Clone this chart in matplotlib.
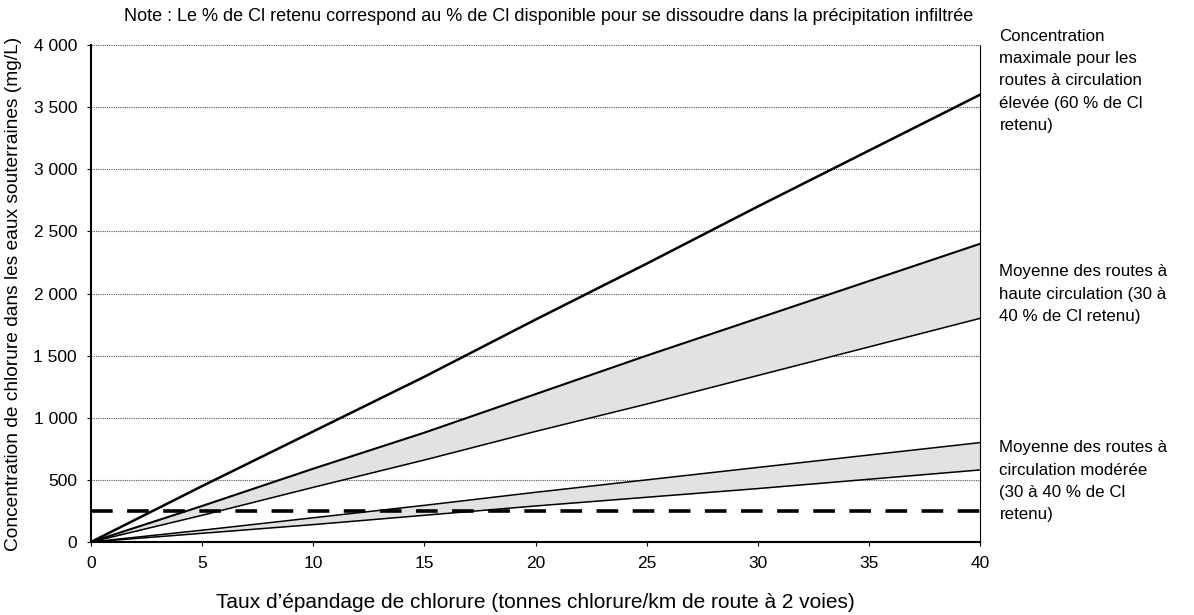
import numpy as np
import matplotlib.pyplot as plt
from matplotlib.ticker import FuncFormatter

plt.rcParams['font.family'] = ['Liberation Sans', 'DejaVu Sans']

# taux d'épandage (tonnes / km)
taux = [0, 5, 10, 15, 20, 25, 30, 35, 40]

# concentrations (mg/L)
max_eleve = [0, 450, 890, 1330, 1790, 2240, 2700, 3150, 3600]
haute_sup = [0, 290, 590, 880, 1190, 1500, 1800, 2100, 2400]
haute_inf = [0, 215, 440, 660, 890, 1110, 1340, 1570, 1800]
moder_sup = [0, 95, 195, 295, 400, 500, 600, 700, 800]
moder_inf = [0, 70, 140, 215, 290, 360, 430, 505, 580]
seuil = [250, 250, 250, 250, 250, 250, 250, 250, 250]

y_ticks = [0, 500, 1000, 1500, 2000, 2500, 3000, 3500, 4000]

fig = plt.figure(figsize=(11.94, 6.15), dpi=100)
ax = fig.add_axes([0.0762, 0.1187, 0.7446, 0.8081])

# grille horizontale pointillée
for v in y_ticks[1:]:
    ax.axhline(v, color='#555555', lw=0.8, ls=(0, (1, 1)), zorder=1)

# bandes grisées
ax.fill_between(taux, haute_inf, haute_sup, color='#e2e2e2', lw=0, zorder=2)
ax.fill_between(taux, moder_inf, moder_sup, color='#e2e2e2', lw=0, zorder=2)

ax.plot(taux, max_eleve, color='black', lw=1.8, zorder=4)
ax.plot(taux, haute_sup, color='black', lw=1.5, zorder=4)
ax.plot(taux, haute_inf, color='black', lw=1.1, zorder=4)
ax.plot(taux, moder_sup, color='black', lw=1.1, zorder=4)
ax.plot(taux, moder_inf, color='black', lw=1.1, zorder=4)
ax.plot(taux, seuil, color='black', lw=2.6, ls=(0, (6, 4)), zorder=5)

ax.set_xlim(0, 40)
ax.set_ylim(0, 4000)
ax.set_xticks(taux)
ax.set_yticks(y_ticks)
ax.yaxis.set_major_formatter(FuncFormatter(lambda v, p: f'{int(v):,}'.replace(',', ' ')))
ax.tick_params(axis='both', labelsize=12.5, length=3, width=0.8, pad=7)

ax.spines['top'].set_visible(False)
ax.spines['right'].set_linewidth(0.8)
ax.spines['right'].set_linestyle((0, (1, 1)))
ax.spines['left'].set_linewidth(1.5)
ax.spines['bottom'].set_linewidth(1.5)

ax.set_ylabel('Concentration de chlorure dans les eaux souterraines (mg/L)', fontsize=13.8, labelpad=8)
ax.set_xlabel('Taux d\u2019épandage de chlorure (tonnes chlorure/km de route à 2 voies)', fontsize=15, labelpad=16)

fig.text(0.4595, 0.973, 'Note : Le % de Cl retenu correspond au % de Cl disponible pour se dissoudre dans la précipitation infiltrée',
         fontsize=13, ha='center', va='center')

notes = [
    (0.953, 'Concentration\nmaximale pour les\nroutes à circulation\nélevée (60 % de Cl\nretenu)'),
    (0.570, 'Moyenne des routes à\nhaute circulation (30 à\n40 % de Cl retenu)'),
    (0.284, 'Moyenne des routes à\ncirculation modérée\n(30 à 40 % de Cl\nretenu)'),
]
for y, txt in notes:
    fig.text(0.837, y, txt, fontsize=12.2, ha='left', va='top', linespacing=1.6)

fig.savefig('out.png', dpi=100)
